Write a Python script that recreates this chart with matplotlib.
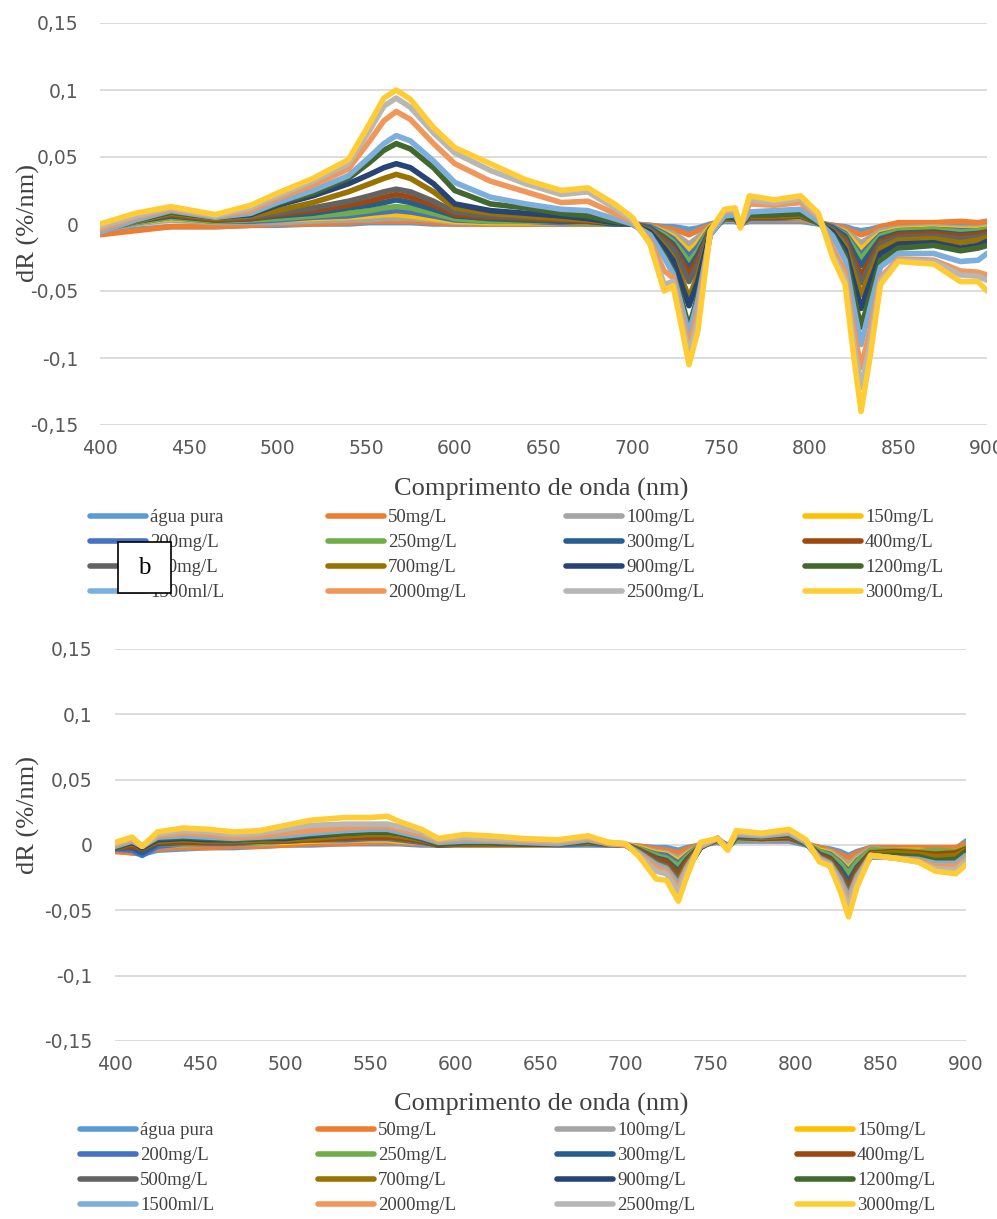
import numpy as np
import matplotlib.pyplot as plt
from matplotlib.patches import Rectangle

# series labels and Excel default colours
labels = ["água pura", "50mg/L", "100mg/L", "150mg/L",
          "200mg/L", "250mg/L", "300mg/L", "400mg/L",
          "500mg/L", "700mg/L", "900mg/L", "1200mg/L",
          "1500ml/L", "2000mg/L", "2500mg/L", "3000mg/L"]
colors = ["#5b9bd5", "#ed7d31", "#a5a5a5", "#ffc000",
          "#4472c4", "#70ad47", "#255e91", "#9e480e",
          "#636363", "#997300", "#264478", "#43682b",
          "#7cafdd", "#f1975a", "#b7b7b7", "#ffcd33"]

yticks = [-0.15, -0.1, -0.05, 0, 0.05, 0.1, 0.15]
ytick_labels = ["-0,15", "-0,1", "-0,05", "0", "0,05", "0,1", "0,15"]
xticks = [400, 450, 500, 550, 600, 650, 700, 750, 800, 850, 900]

# ---- top panel (a) ----
wl_a = [400, 420, 440, 465, 485, 500, 520, 540, 552, 560, 567, 575, 588, 600, 620,
        640, 660, 675, 690, 700, 710, 718, 723, 728, 732, 737, 744, 752, 758, 761,
        766, 780, 795, 805, 813, 820, 825, 829, 834, 840, 850, 870, 885, 895, 900]

a_agua = [-0.006, -0.004, -0.002, -0.002, -0.001, -0.001, 0.000, 0.000, 0.001, 0.001, 0.001, 0.001, 0.000, 0.000, 0.000,
          0.000, 0.000, 0.000, 0.000, 0.000, -0.001, -0.002, -0.002, -0.003, -0.004, -0.003, 0.000, 0.002, 0.002, 0.000,
          0.002, 0.002, 0.002, 0.000, -0.001, -0.002, -0.004, -0.005, -0.004, -0.002, 0.000, 0.000, -0.001, 0.000, 0.002]
a_50 = [-0.008, -0.005, -0.002, -0.002, -0.001, 0.000, 0.000, 0.001, 0.002, 0.002, 0.002, 0.002, 0.001, 0.000, 0.000,
        0.000, 0.000, 0.000, 0.000, 0.000, -0.001, -0.003, -0.004, -0.006, -0.008, -0.005, -0.001, 0.003, 0.003, 0.000,
        0.003, 0.003, 0.003, 0.001, -0.001, -0.003, -0.006, -0.008, -0.006, -0.002, 0.001, 0.001, 0.002, 0.001, 0.002]
a_100 = [-0.005, 0.000, 0.003, 0.001, 0.001, 0.001, 0.002, 0.003, 0.003, 0.004, 0.004, 0.004, 0.003, 0.001, 0.001,
         0.001, 0.001, 0.001, 0.000, 0.000, -0.002, -0.005, -0.007, -0.011, -0.015, -0.010, -0.002, 0.003, 0.003, 0.000,
         0.004, 0.004, 0.004, 0.001, -0.002, -0.005, -0.010, -0.014, -0.010, -0.005, -0.003, -0.002, -0.003, -0.003, -0.002]
a_150 = [-0.004, 0.001, 0.004, 0.002, 0.002, 0.003, 0.004, 0.005, 0.006, 0.007, 0.007, 0.006, 0.004, 0.002, 0.001,
         0.001, 0.001, 0.001, 0.000, 0.000, -0.002, -0.006, -0.009, -0.015, -0.020, -0.014, -0.002, 0.004, 0.004, 0.000,
         0.004, 0.004, 0.005, 0.001, -0.002, -0.006, -0.013, -0.019, -0.013, -0.007, -0.004, -0.003, -0.004, -0.004, -0.003]
a_200 = [-0.004, 0.001, 0.005, 0.002, 0.002, 0.003, 0.005, 0.006, 0.008, 0.009, 0.010, 0.009, 0.006, 0.003, 0.002,
         0.002, 0.001, 0.001, 0.000, 0.000, -0.002, -0.007, -0.011, -0.018, -0.024, -0.017, -0.003, 0.004, 0.004, 0.000,
         0.004, 0.004, 0.005, 0.001, -0.002, -0.007, -0.016, -0.023, -0.016, -0.008, -0.005, -0.004, -0.005, -0.005, -0.004]
a_250 = [-0.004, 0.001, 0.005, 0.002, 0.003, 0.004, 0.006, 0.008, 0.010, 0.012, 0.013, 0.012, 0.008, 0.004, 0.002,
         0.002, 0.002, 0.001, 0.000, 0.000, -0.003, -0.008, -0.013, -0.021, -0.028, -0.020, -0.003, 0.004, 0.004, 0.000,
         0.005, 0.005, 0.005, 0.001, -0.003, -0.008, -0.018, -0.026, -0.018, -0.009, -0.005, -0.004, -0.006, -0.005, -0.004]
a_300 = [-0.004, 0.002, 0.006, 0.003, 0.004, 0.006, 0.008, 0.012, 0.014, 0.016, 0.018, 0.016, 0.011, 0.006, 0.004,
         0.003, 0.002, 0.002, 0.000, 0.000, -0.003, -0.010, -0.015, -0.025, -0.033, -0.023, -0.004, 0.004, 0.004, 0.000,
         0.005, 0.005, 0.006, 0.001, -0.003, -0.009, -0.022, -0.031, -0.022, -0.011, -0.007, -0.006, -0.008, -0.007, -0.006]
a_400 = [-0.004, 0.002, 0.007, 0.003, 0.004, 0.007, 0.010, 0.014, 0.017, 0.020, 0.022, 0.020, 0.014, 0.007, 0.005,
         0.004, 0.003, 0.002, 0.001, 0.000, -0.004, -0.011, -0.017, -0.028, -0.037, -0.026, -0.004, 0.004, 0.004, 0.000,
         0.005, 0.005, 0.006, 0.001, -0.004, -0.011, -0.027, -0.038, -0.027, -0.013, -0.008, -0.007, -0.009, -0.008, -0.006]
a_500 = [-0.005, 0.002, 0.008, 0.004, 0.005, 0.008, 0.012, 0.017, 0.021, 0.024, 0.026, 0.024, 0.017, 0.009, 0.006,
         0.005, 0.004, 0.003, 0.001, 0.000, -0.004, -0.013, -0.019, -0.032, -0.043, -0.030, -0.004, 0.004, 0.005, 0.000,
         0.006, 0.006, 0.007, 0.001, -0.004, -0.013, -0.031, -0.044, -0.031, -0.015, -0.010, -0.009, -0.011, -0.010, -0.008]
a_700 = [-0.005, 0.002, 0.008, 0.004, 0.006, 0.010, 0.016, 0.024, 0.030, 0.034, 0.037, 0.034, 0.024, 0.012, 0.008,
         0.006, 0.004, 0.003, 0.001, 0.000, -0.005, -0.016, -0.025, -0.041, -0.055, -0.038, -0.006, 0.004, 0.005, 0.000,
         0.006, 0.006, 0.007, 0.001, -0.005, -0.016, -0.037, -0.053, -0.037, -0.018, -0.012, -0.011, -0.014, -0.012, -0.010]
a_900 = [-0.005, 0.003, 0.009, 0.005, 0.007, 0.014, 0.021, 0.030, 0.037, 0.042, 0.045, 0.042, 0.030, 0.015, 0.010,
         0.008, 0.006, 0.004, 0.001, 0.000, -0.006, -0.018, -0.027, -0.046, -0.061, -0.043, -0.006, 0.005, 0.005, -0.001,
         0.007, 0.007, 0.008, 0.001, -0.006, -0.019, -0.044, -0.063, -0.044, -0.022, -0.015, -0.014, -0.018, -0.016, -0.013]
a_1200 = [-0.005, 0.003, 0.009, 0.005, 0.008, 0.015, 0.023, 0.034, 0.046, 0.055, 0.060, 0.056, 0.042, 0.025, 0.015,
          0.012, 0.008, 0.006, 0.002, 0.000, -0.008, -0.023, -0.035, -0.058, -0.077, -0.054, -0.008, 0.005, 0.006, -0.001,
          0.007, 0.007, 0.008, 0.001, -0.008, -0.023, -0.054, -0.077, -0.054, -0.027, -0.018, -0.016, -0.020, -0.018, -0.016]
a_1500 = [-0.006, 0.003, 0.010, 0.005, 0.008, 0.016, 0.025, 0.036, 0.050, 0.060, 0.066, 0.062, 0.047, 0.031, 0.020,
          0.015, 0.011, 0.010, 0.004, 0.000, -0.008, -0.025, -0.037, -0.062, -0.082, -0.057, -0.008, 0.006, 0.007, -0.001,
          0.009, 0.010, 0.011, 0.002, -0.009, -0.027, -0.063, -0.090, -0.063, -0.032, -0.022, -0.022, -0.028, -0.027, -0.022]
a_2000 = [-0.004, 0.005, 0.011, 0.006, 0.010, 0.019, 0.029, 0.041, 0.062, 0.077, 0.084, 0.078, 0.060, 0.045, 0.032,
          0.024, 0.016, 0.017, 0.008, 0.002, -0.012, -0.035, -0.040, -0.068, -0.092, -0.065, -0.006, 0.009, 0.010, -0.002,
          0.015, 0.014, 0.016, 0.005, -0.018, -0.036, -0.080, -0.107, -0.080, -0.040, -0.026, -0.027, -0.035, -0.036, -0.038]
a_2500 = [-0.002, 0.006, 0.012, 0.006, 0.012, 0.021, 0.032, 0.045, 0.070, 0.088, 0.094, 0.087, 0.068, 0.053, 0.040,
          0.030, 0.022, 0.024, 0.012, 0.003, -0.014, -0.045, -0.043, -0.073, -0.097, -0.072, -0.006, 0.010, 0.011, -0.002,
          0.018, 0.016, 0.019, 0.006, -0.022, -0.041, -0.090, -0.122, -0.090, -0.042, -0.027, -0.028, -0.038, -0.039, -0.042]
a_3000 = [0.000, 0.008, 0.013, 0.007, 0.014, 0.023, 0.034, 0.048, 0.075, 0.094, 0.100, 0.093, 0.072, 0.057, 0.045,
          0.033, 0.025, 0.027, 0.015, 0.005, -0.015, -0.050, -0.046, -0.078, -0.105, -0.080, -0.005, 0.011, 0.012, -0.003,
          0.021, 0.018, 0.021, 0.008, -0.025, -0.045, -0.100, -0.140, -0.100, -0.045, -0.028, -0.030, -0.043, -0.043, -0.050]

series_a = [a_agua, a_50, a_100, a_150, a_200, a_250, a_300, a_400,
            a_500, a_700, a_900, a_1200, a_1500, a_2000, a_2500, a_3000]

# ---- bottom panel (b) ----
wl_b = [400, 410, 416, 425, 440, 455, 470, 485, 500, 515, 535, 550, 560, 567, 580, 590,
        605, 620, 640, 660, 678, 690, 700, 708, 718, 724, 731, 736, 744, 754, 760,
        765, 780, 796, 806, 814, 820, 826, 831, 836, 844, 858, 872, 882, 894, 900]

b_agua = [-0.004, -0.006, -0.007, -0.004, -0.003, -0.002, -0.002, -0.001, 0.000, 0.000, 0.001, 0.001, 0.001, 0.001, 0.000, 0.000,
          0.000, 0.000, 0.000, 0.000, 0.000, 0.000, 0.000, -0.001, -0.002, -0.002, -0.004, -0.002, 0.000, 0.002, 0.000,
          0.003, 0.003, 0.003, 0.000, -0.002, -0.003, -0.005, -0.008, -0.005, -0.002, -0.002, -0.003, -0.004, -0.003, 0.003]
b_50 = [-0.005, -0.006, -0.005, -0.003, -0.002, -0.002, -0.001, -0.001, 0.000, 0.001, 0.001, 0.002, 0.002, 0.002, 0.001, 0.000,
        0.000, 0.000, 0.000, 0.000, 0.001, 0.000, 0.000, -0.001, -0.003, -0.004, -0.006, -0.003, 0.000, 0.003, 0.000,
        0.004, 0.004, 0.004, 0.001, -0.002, -0.004, -0.007, -0.010, -0.006, -0.002, -0.002, -0.002, -0.002, -0.002, 0.001]
b_100 = [-0.003, -0.003, -0.006, -0.001, 0.000, 0.001, 0.001, 0.001, 0.002, 0.003, 0.003, 0.004, 0.004, 0.003, 0.002, 0.000,
         0.001, 0.001, 0.001, 0.000, 0.001, 0.000, 0.000, -0.002, -0.005, -0.006, -0.010, -0.006, 0.000, 0.004, -0.001,
         0.005, 0.004, 0.005, 0.001, -0.004, -0.005, -0.010, -0.015, -0.009, -0.003, -0.004, -0.005, -0.006, -0.006, -0.002]
b_150 = [-0.002, -0.001, -0.004, 0.000, 0.001, 0.001, 0.001, 0.002, 0.002, 0.003, 0.004, 0.004, 0.004, 0.003, 0.002, 0.000,
         0.001, 0.001, 0.001, 0.000, 0.001, 0.000, 0.000, -0.002, -0.006, -0.007, -0.012, -0.007, 0.000, 0.004, -0.001,
         0.005, 0.005, 0.005, 0.001, -0.004, -0.006, -0.012, -0.018, -0.011, -0.004, -0.004, -0.004, -0.005, -0.005, -0.002]
b_200 = [-0.003, -0.004, -0.008, -0.001, 0.001, 0.001, 0.001, 0.002, 0.003, 0.004, 0.004, 0.005, 0.005, 0.004, 0.002, 0.000,
         0.001, 0.001, 0.001, 0.000, 0.001, 0.000, 0.000, -0.003, -0.007, -0.008, -0.014, -0.008, 0.000, 0.004, -0.001,
         0.005, 0.005, 0.005, 0.001, -0.005, -0.007, -0.013, -0.020, -0.012, -0.004, -0.005, -0.006, -0.007, -0.007, -0.003]
b_250 = [-0.002, -0.001, -0.003, 0.001, 0.001, 0.002, 0.002, 0.002, 0.003, 0.004, 0.005, 0.006, 0.006, 0.005, 0.003, 0.000,
         0.001, 0.001, 0.001, 0.001, 0.002, 0.001, 0.000, -0.003, -0.008, -0.010, -0.016, -0.009, 0.000, 0.004, -0.001,
         0.005, 0.005, 0.006, 0.001, -0.005, -0.008, -0.014, -0.022, -0.013, -0.004, -0.004, -0.005, -0.004, -0.005, -0.002]
b_300 = [-0.002, -0.002, -0.006, 0.001, 0.002, 0.002, 0.002, 0.003, 0.004, 0.005, 0.006, 0.007, 0.007, 0.006, 0.003, 0.000,
         0.001, 0.001, 0.001, 0.001, 0.002, 0.001, 0.000, -0.004, -0.010, -0.012, -0.020, -0.011, -0.001, 0.004, -0.002,
         0.006, 0.005, 0.006, 0.001, -0.007, -0.010, -0.018, -0.028, -0.017, -0.006, -0.007, -0.008, -0.009, -0.008, -0.004]
b_400 = [-0.002, -0.001, -0.003, 0.002, 0.002, 0.002, 0.002, 0.003, 0.003, 0.004, 0.005, 0.006, 0.006, 0.005, 0.003, 0.000,
         0.001, 0.001, 0.001, 0.001, 0.002, 0.001, 0.000, -0.004, -0.011, -0.013, -0.022, -0.012, -0.001, 0.004, -0.002,
         0.006, 0.005, 0.006, 0.001, -0.008, -0.011, -0.021, -0.032, -0.019, -0.006, -0.005, -0.006, -0.007, -0.006, -0.003]
b_500 = [-0.001, 0.002, -0.002, 0.003, 0.004, 0.003, 0.003, 0.004, 0.004, 0.005, 0.007, 0.008, 0.008, 0.007, 0.004, 0.001,
         0.001, 0.001, 0.001, 0.001, 0.002, 0.001, 0.000, -0.005, -0.013, -0.016, -0.026, -0.014, -0.001, 0.005, -0.002,
         0.006, 0.006, 0.007, 0.001, -0.009, -0.013, -0.023, -0.036, -0.022, -0.007, -0.007, -0.008, -0.010, -0.009, -0.005]
b_700 = [-0.002, 0.001, -0.002, 0.003, 0.004, 0.003, 0.003, 0.004, 0.004, 0.005, 0.007, 0.008, 0.008, 0.007, 0.004, 0.001,
         0.001, 0.001, 0.001, 0.001, 0.002, 0.001, 0.000, -0.006, -0.014, -0.017, -0.028, -0.015, -0.001, 0.005, -0.002,
         0.007, 0.006, 0.007, 0.002, -0.010, -0.013, -0.025, -0.038, -0.023, -0.007, -0.006, -0.007, -0.009, -0.008, -0.004]
b_900 = [-0.002, 0.002, -0.002, 0.004, 0.005, 0.004, 0.004, 0.005, 0.005, 0.007, 0.009, 0.010, 0.010, 0.009, 0.005, 0.001,
         0.002, 0.002, 0.001, 0.001, 0.003, 0.001, 0.000, -0.007, -0.017, -0.020, -0.034, -0.019, -0.002, 0.005, -0.002,
         0.007, 0.007, 0.008, 0.002, -0.011, -0.016, -0.029, -0.045, -0.027, -0.009, -0.009, -0.010, -0.013, -0.012, -0.006]
b_1200 = [-0.002, 0.003, -0.001, 0.005, 0.006, 0.005, 0.004, 0.005, 0.006, 0.008, 0.009, 0.010, 0.010, 0.009, 0.005, 0.001,
          0.002, 0.002, 0.001, 0.001, 0.003, 0.001, 0.000, -0.006, -0.016, -0.019, -0.032, -0.018, -0.002, 0.005, -0.002,
          0.007, 0.007, 0.008, 0.002, -0.010, -0.015, -0.027, -0.042, -0.025, -0.008, -0.008, -0.009, -0.012, -0.011, -0.005]
b_1500 = [-0.001, 0.003, -0.001, 0.006, 0.007, 0.006, 0.005, 0.006, 0.007, 0.009, 0.011, 0.012, 0.012, 0.010, 0.006, 0.002,
          0.003, 0.003, 0.002, 0.001, 0.004, 0.001, 0.000, -0.006, -0.015, -0.018, -0.030, -0.017, -0.001, 0.005, -0.002,
          0.008, 0.007, 0.009, 0.002, -0.010, -0.014, -0.026, -0.040, -0.024, -0.008, -0.010, -0.011, -0.014, -0.014, -0.008]
b_2000 = [0.000, 0.004, -0.001, 0.007, 0.009, 0.008, 0.006, 0.007, 0.009, 0.011, 0.013, 0.014, 0.014, 0.012, 0.008, 0.003,
          0.005, 0.004, 0.003, 0.002, 0.005, 0.001, 0.000, -0.007, -0.017, -0.020, -0.033, -0.018, -0.001, 0.005, -0.003,
          0.009, 0.008, 0.010, 0.003, -0.011, -0.015, -0.029, -0.044, -0.026, -0.008, -0.010, -0.012, -0.016, -0.016, -0.010]
b_2500 = [0.001, 0.005, -0.001, 0.008, 0.011, 0.010, 0.008, 0.009, 0.012, 0.015, 0.016, 0.016, 0.016, 0.014, 0.010, 0.004,
          0.006, 0.005, 0.004, 0.003, 0.006, 0.002, 0.001, -0.008, -0.020, -0.022, -0.036, -0.020, 0.000, 0.005, -0.003,
          0.010, 0.008, 0.011, 0.003, -0.012, -0.015, -0.031, -0.048, -0.028, -0.008, -0.010, -0.013, -0.018, -0.019, -0.012]
b_3000 = [0.002, 0.006, -0.001, 0.010, 0.013, 0.012, 0.010, 0.011, 0.015, 0.019, 0.021, 0.021, 0.022, 0.018, 0.012, 0.005,
          0.008, 0.007, 0.005, 0.004, 0.007, 0.002, 0.001, -0.009, -0.026, -0.027, -0.043, -0.024, 0.002, 0.005, -0.004,
          0.011, 0.009, 0.012, 0.004, -0.013, -0.016, -0.035, -0.055, -0.032, -0.008, -0.010, -0.013, -0.020, -0.022, -0.015]

series_b = [b_agua, b_50, b_100, b_150, b_200, b_250, b_300, b_400,
            b_500, b_700, b_900, b_1200, b_1500, b_2000, b_2500, b_3000]

W, H = 997, 1219
fig = plt.figure(figsize=(W / 100, H / 100), dpi=100)

tick_color = "#595959"
text_color = "#404040"
serif = "Liberation Serif"


def draw_panel(left, right, top, bottom, wl, series, ypad):
    ax = fig.add_axes([left / W, 1 - bottom / H, (right - left) / W, (bottom - top) / H])
    lines = []
    for vals, c, lab in zip(series, colors, labels):
        ln, = ax.plot(wl, vals, color=c, lw=4.0, label=lab,
                      solid_joinstyle="round", solid_capstyle="round")
        lines.append(ln)
    ax.set_xlim(400, 900)
    ax.set_ylim(-0.15, 0.15)
    ax.set_xticks(xticks)
    ax.set_yticks(yticks)
    ax.set_yticklabels(ytick_labels)
    ax.grid(axis="y", color="#d9d9d9", lw=1.3)
    ax.set_axisbelow(True)
    for s in ax.spines.values():
        s.set_visible(False)
    ax.tick_params(axis="both", length=0, labelsize=13.5, colors=tick_color)
    ax.tick_params(axis="y", pad=ypad)
    ax.tick_params(axis="x", pad=10)
    return ax, lines


ax_a, lines_a = draw_panel(100, 987, 23, 425, wl_a, series_a, 15.5)
ax_b, lines_b = draw_panel(115, 966, 649, 1041, wl_b, series_b, 16)

# axis titles
for xl_y, yl_y in [(489, 223), (1104, 815)]:
    fig.text(541 / W, 1 - xl_y / H, "Comprimento de onda (nm)", ha="center", va="center",
             fontsize=19, family=serif, color=text_color)
    fig.text(28 / W, 1 - yl_y / H, "dR (%/nm)", ha="center", va="center", rotation=90,
             fontsize=19, family=serif, color=text_color)


# legends, Excel style: filled row by row, 4 columns
def add_legend(lines, col_x, ytop):
    for c in range(4):
        fig.legend(lines[c::4], labels[c::4], loc="upper left",
                   bbox_to_anchor=(col_x[c] / W, 1 - ytop / H),
                   frameon=False, handlelength=3.0, handletextpad=0.2,
                   labelspacing=0.42, borderpad=0, borderaxespad=0,
                   prop={"family": serif, "size": 13.5}, labelcolor=text_color)


add_legend(lines_a, [90, 328, 566, 805], 509)
add_legend(lines_b, [80, 318, 557, 797], 1122)

# panel tag box "b"
fig.add_artist(Rectangle((118 / W, 1 - 593 / H), 53 / W, 51 / H, transform=fig.transFigure,
                         facecolor="white", edgecolor="black", lw=1.2, zorder=10))
fig.text(144 / W, 1 - 568 / H, "b", ha="center", va="center", fontsize=18,
         family=serif, color="black", zorder=11)

fig.savefig("out.png", dpi=100)
